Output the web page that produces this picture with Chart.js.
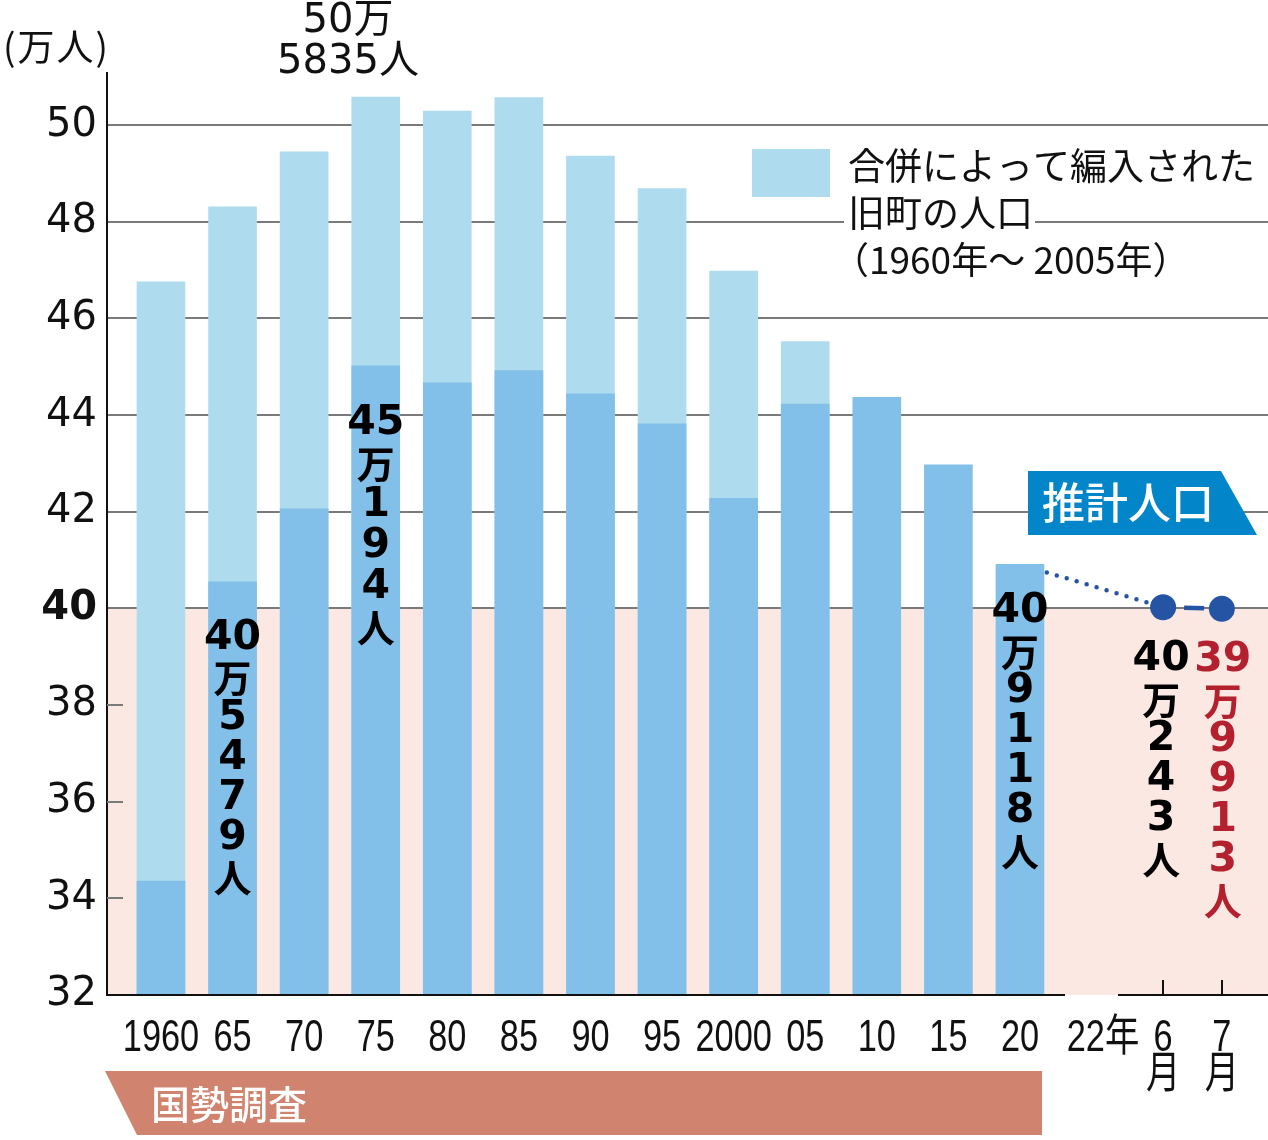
<!DOCTYPE html>
<html>
<head>
<meta charset="utf-8">
<script src="https://cdn.jsdelivr.net/npm/chart.js@4"></script>
<style>
html,body{margin:0;padding:0;background:#fff;overflow:hidden;}
canvas{display:block;}
</style>
</head>
<body>
<canvas id="c" width="1268" height="1140"></canvas>
<script>
// ---- data ----
const censusLabels = ['1960','65','70','75','80','85','90','95','2000','05','10','15','20'];
const cityPop  = [34.36, 40.5479, 42.06, 45.0194, 44.67, 44.92, 44.44, 43.82, 42.28, 44.23, 44.37, 42.97, 40.9118];
const totalPop = [46.76, 48.31, 49.45, 50.5835, 50.29, 50.57, 49.36, 48.69, 46.98, 45.52, null, null, null];
const estimateLabels = [['6','月'], ['7','月']];
const estimateIdx = [14, 14.82];
const estimatePop = [40.0243, 39.9913];
const yearLabel22 = ['22年'];
const yearLabel22Idx = 13.16;
const yTicks = [32, 34, 36, 38, 40, 42, 44, 46, 48, 50];

const C_TOTAL = '#AEDCEE', C_CITY = '#82BFE9', C_PT = '#2454A3', C_PINK = '#FCE8E3';
const C_RED = '#B3202E', C_TAG = '#0285C9', C_BANNER = '#D0836E';
const FONT_DV = '"DejaVu Sans", "Noto Sans CJK JP", sans-serif';
const FONT_LIB = '"Liberation Sans", "Noto Sans CJK JP", sans-serif';
const FONT_JP = '"Noto Sans CJK JP", sans-serif';

const xTickVals = censusLabels.map((_, i) => i).concat([yearLabel22Idx], estimateIdx);
const xTickText = censusLabels.map(s => [s]).concat([yearLabel22], estimateLabels);

const cityData = cityPop.map((v, i) => ({x: i, y: v}));
const totalData = totalPop.map((v, i) => ({x: i, y: v}));
const connData = [{x: 12, y: cityPop[12]}, {x: estimateIdx[0], y: estimatePop[0]}];
const estData = estimateIdx.map((x, i) => ({x, y: estimatePop[i]}));

// vertical in-bar annotations
const vLabels = [
  {x: 1, y: cityPop[1], lines: ['40','万','5','4','7','9','人'], dy: 56, step: 40, color: '#000'},
  {x: 3, y: cityPop[3], lines: ['45','万','1','9','4','人'], dy: 57, step: 41, color: '#000'},
  {x: 12, y: cityPop[12], lines: ['40','万','9','1','1','8','人'], dy: 47, step: 40, color: '#000'},
  {x: estimateIdx[0], y: estimatePop[0], lines: ['40','万','2','4','3','人'], dy: 52, step: 40, color: '#000', shift: -2},
  {x: estimateIdx[1], y: estimatePop[1], lines: ['39','万','9','9','1','3','人'], dy: 52, step: 40, color: C_RED, shift: 1}
];

const deco = {
  id: 'deco',
  beforeDraw(chart) {
    const {ctx, chartArea: a, scales: {y}} = chart;
    ctx.save();
    ctx.fillStyle = C_PINK;
    const y40 = y.getPixelForValue(40);
    ctx.fillRect(a.left, y40, a.right - a.left, a.bottom - y40);
    ctx.restore();
  },
  beforeDatasetsDraw(chart) {
    const {ctx, chartArea: a, scales: {y}} = chart;
    ctx.save();
    ctx.strokeStyle = '#7a7a7a';
    ctx.lineWidth = 2;
    [34, 36, 38].forEach(v => {
      const p = Math.round(y.getPixelForValue(v));
      ctx.beginPath(); ctx.moveTo(a.left, p); ctx.lineTo(a.left + 16, p); ctx.stroke();
    });
    ctx.restore();
  },
  afterDatasetsDraw(chart) {
    const {ctx, chartArea: a, scales: {x, y}} = chart;
    ctx.save();
    // x axis line with gap
    ctx.strokeStyle = '#111';
    ctx.lineWidth = 2;
    const yb = a.bottom;
    ctx.beginPath();
    ctx.moveTo(a.left, yb); ctx.lineTo(1065, yb);
    ctx.moveTo(1118, yb); ctx.lineTo(a.right, yb);
    estimateIdx.forEach(v => {
      const px = Math.round(x.getPixelForValue(v));
      ctx.moveTo(px, yb); ctx.lineTo(px, yb - 15);
    });
    ctx.stroke();

    // x tick labels (condensed)
    ctx.fillStyle = '#111';
    ctx.textBaseline = 'middle';
    ctx.textAlign = 'center';
    ctx.font = '44px ' + FONT_LIB;
    xTickVals.forEach((v, i) => {
      const px = x.getPixelForValue(v);
      xTickText[i].forEach((t, j) => {
        ctx.save();
        ctx.translate(px, 1039 + j * 37);
        ctx.scale(0.78, 1);
        ctx.fillText(t, 0, 0);
        ctx.restore();
      });
    });

    // unit label
    ctx.font = '37px ' + FONT_JP;
    ctx.textAlign = 'left';
    ctx.letterSpacing = '2px';
    ctx.fillText('(万人)', 3, 47);
    ctx.letterSpacing = '0px';

    // peak label
    ctx.textAlign = 'center';
    ctx.font = '40px ' + FONT_DV;
    ctx.fillText('50万', 348, 22);
    ctx.fillText('5835人', 348, 63);

    // vertical labels
    vLabels.forEach(l => {
      const cx = x.getPixelForValue(l.x) + (l.shift || 0);
      const top = y.getPixelForValue(l.y) + l.dy;
      ctx.fillStyle = l.color;
      l.lines.forEach((t, i) => {
        ctx.font = (t === '万' || t === '人') ? 'bold 38px ' + FONT_JP : 'bold 41px ' + FONT_DV;
        ctx.fillText(t, cx, top + i * l.step);
      });
    });

    // legend
    ctx.fillStyle = C_TOTAL;
    ctx.fillRect(752, 149, 78, 48);
    ctx.font = '37px ' + FONT_JP;
    ctx.textAlign = 'left';
    const legLines = ['合併によって編入された', '旧町の人口', '（1960年～ 2005年）'];
    legLines.forEach((t, i) => {
      const w = ctx.measureText(t).width;
      const cy = 166 + i * 47;
      ctx.fillStyle = '#fff';
      ctx.fillRect(844, cy - 20, w + 6, 40);
      ctx.fillStyle = '#111';
      ctx.fillText(t, i === 2 ? 832 : 848, cy);
    });

    // estimate tag
    ctx.fillStyle = C_TAG;
    ctx.beginPath();
    ctx.moveTo(1028, 471); ctx.lineTo(1221, 471); ctx.lineTo(1257, 535); ctx.lineTo(1028, 535);
    ctx.closePath(); ctx.fill();
    ctx.fillStyle = '#fff';
    ctx.font = '500 43px ' + FONT_JP;
    ctx.fillText('推計人口', 1042, 503);

    // census banner
    ctx.fillStyle = C_BANNER;
    ctx.beginPath();
    ctx.moveTo(105, 1071); ctx.lineTo(1042, 1071); ctx.lineTo(1042, 1135); ctx.lineTo(137, 1135);
    ctx.closePath(); ctx.fill();
    ctx.fillStyle = '#fff';
    ctx.font = '500 39px ' + FONT_JP;
    ctx.fillText('国勢調査', 151, 1104);
    ctx.restore();
  }
};

new Chart(document.getElementById('c'), {
  type: 'bar',
  data: {
    datasets: [
      {type: 'line', data: estData, borderColor: C_PT, borderWidth: 4.5, borderDash: [20, 1000], borderDashOffset: -21,
       pointRadius: 13, pointBackgroundColor: C_PT, pointBorderWidth: 0, order: -1, clip: false},
      {label: 'city', data: cityData, backgroundColor: C_CITY, order: 1},
      {label: 'total', data: totalData, backgroundColor: C_TOTAL, order: 2},
      {type: 'line', data: connData, borderColor: C_PT, borderWidth: 4.5, borderDash: [0, 10.4], borderDashOffset: 3.2,
       borderCapStyle: 'round', pointRadius: 0, order: 5}
    ]
  },
  options: {
    responsive: false,
    devicePixelRatio: 1,
    animation: false,
    events: [],
    layout: {autoPadding: false, padding: {top: 73, left: 0, right: 0, bottom: 0}},
    datasets: {bar: {grouped: false, barThickness: 48, borderWidth: 0}},
    plugins: {legend: {display: false}, tooltip: {enabled: false}},
    scales: {
      x: {
        type: 'linear', offset: false, min: -0.754, max: 15.465,
        afterBuildTicks: s => { s.ticks = xTickVals.map(v => ({value: v})); },
        afterFit: s => { s.height = 145; s.paddingLeft = 0; s.paddingRight = 0; },
        grid: {display: false, drawTicks: false, tickLength: 0},
        border: {display: false},
        ticks: {display: false}
      },
      y: {
        min: 32, max: 51.08,
        afterBuildTicks: s => { s.ticks = yTicks.map(v => ({value: v})); },
        afterFit: s => { s.width = 107; },
        grid: {
          drawTicks: false, tickLength: 0, lineWidth: 2,
          color: c => (c.tick && c.tick.value >= 40) ? '#7a7a7a' : 'rgba(0,0,0,0)'
        },
        border: {display: true, color: '#111', width: 2},
        ticks: {
          padding: 10, color: '#111',
          font: c => ({family: FONT_DV, size: 40, weight: (c.tick && c.tick.value === 40) ? 'bold' : 'normal'}),
          callback: v => String(v)
        }
      }
    }
  },
  plugins: [deco]
});
</script>
</body>
</html>
